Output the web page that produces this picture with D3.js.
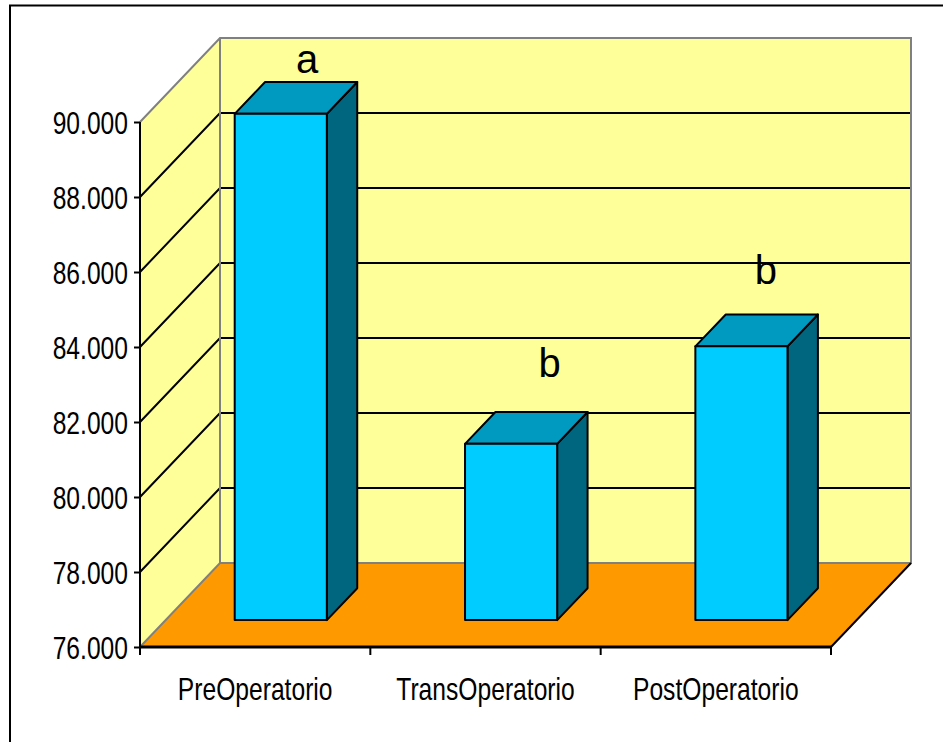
<!DOCTYPE html>
<html>
<head>
<meta charset="utf-8">
<script src="https://cdn.jsdelivr.net/npm/d3@7"></script>
<style>
  html, body { margin: 0; padding: 0; background: #ffffff; }
  svg { display: block; }
</style>
</head>
<body>
<svg id="chart" width="943" height="742"></svg>
<script>
// ---- data ----
const categories = ["PreOperatorio", "TransOperatorio", "PostOperatorio"];
const values = [89.5, 80.7, 83.3];
const groupLetters = ["a", "b", "b"];
const yTicks = [76, 78, 80, 82, 84, 86, 88, 90];
const yTickLabels = ["76.000", "78.000", "80.000", "82.000", "84.000", "86.000", "88.000", "90.000"];

// ---- layout ----
const W = 943, H = 742;
const front = { left: 140, right: 831, bottom: 647, top: 122 };
const depthX = 80, depthY = 84;       // full depth of the 3D box
const barDepth0 = 0.32, barDepth1 = 0.70; // bar front/back depth fractions
const letterNudge = [[-4, -9], [8, -35], [-6, -30]];
const labelSize = 32;
const narrow = 0.77; // emulate a condensed face

const colors = {
  wall: "#FFFF99", floor: "#FF9900", wallEdge: "#808080",
  front: "#00CCFF", top: "#0099BF", side: "#00667F"
};

const svg = d3.select("#chart");

const x = d3.scaleBand().domain(categories)
  .range([front.left, front.right]).paddingInner(0.6).paddingOuter(0.3);
const y = d3.scaleLinear().domain([76, 90]).range([front.bottom, front.top]);

// projection: front-plane x, value, depth fraction -> screen
const P = (px, v, d) => [px + d * depthX, y(v) - d * depthY];
const poly = pts => "M" + pts.map(p => p.join(",")).join("L") + "Z";

function condense(sel) {
  sel.each(function () {
    const len = this.getComputedTextLength();
    d3.select(this).attr("textLength", len * narrow).attr("lengthAdjust", "spacingAndGlyphs");
  });
}

// outer frame
svg.append("rect").attr("x", 10).attr("y", 5.5).attr("width", W + 20).attr("height", H + 20)
  .attr("fill", "none").attr("stroke", "#000").attr("stroke-width", 2);

const yMin = y.domain()[0], yMax = y.domain()[1];
const xL = front.left, xR = front.right;

// back wall
svg.append("path").attr("d", poly([P(xL, yMin, 1), P(xL, yMax, 1), P(xR, yMax, 1), P(xR, yMin, 1)]))
  .attr("fill", colors.wall).attr("stroke", "none");
// side wall
svg.append("path").attr("d", poly([P(xL, yMin, 0), P(xL, yMax, 0), P(xL, yMax, 1), P(xL, yMin, 1)]))
  .attr("fill", colors.wall).attr("stroke", "none");
// floor
svg.append("path").attr("d", poly([P(xL, yMin, 0), P(xL, yMin, 1), P(xR, yMin, 1), P(xR, yMin, 0)]))
  .attr("fill", colors.floor).attr("stroke", "none");

// gridlines
const inner = yTicks.filter(v => v > yMin && v < yMax);
const g = svg.append("g").attr("stroke", "#000").attr("stroke-width", 2).attr("fill", "none");
inner.forEach(v => {
  g.append("path").attr("d", "M" + P(xL, v, 0) + "L" + P(xL, v, 1) + "L" + P(xR, v, 1));
});

// wall edges (gray)
const e = svg.append("g").attr("stroke", colors.wallEdge).attr("stroke-width", 2).attr("fill", "none");
e.append("path").attr("d", "M" + P(xL, yMax, 0) + "L" + P(xL, yMax, 1) + "L" + P(xR, yMax, 1) + "L" + P(xR, yMin, 1) + "L" + P(xL, yMin, 1) + "L" + P(xL, yMin, 0));
e.append("path").attr("d", "M" + P(xL, yMax, 1) + "L" + P(xL, yMin, 1));

// floor outer edge (black)
svg.append("path").attr("d", "M" + P(xR, yMin, 0) + "L" + P(xR, yMin, 1))
  .attr("stroke", "#000").attr("stroke-width", 2).attr("fill", "none");

// bars
const bars = svg.append("g").attr("stroke", "#000").attr("stroke-width", 2).attr("stroke-linejoin", "round");
categories.forEach((c, i) => {
  const x0 = x(c), x1 = x(c) + x.bandwidth(), v = values[i];
  const gb = bars.append("g");
  gb.append("path").attr("fill", colors.side)
    .attr("d", poly([P(x1, yMin, barDepth0), P(x1, v, barDepth0), P(x1, v, barDepth1), P(x1, yMin, barDepth1)]));
  gb.append("path").attr("fill", colors.top)
    .attr("d", poly([P(x0, v, barDepth0), P(x0, v, barDepth1), P(x1, v, barDepth1), P(x1, v, barDepth0)]));
  gb.append("path").attr("fill", colors.front)
    .attr("d", poly([P(x0, yMin, barDepth0), P(x0, v, barDepth0), P(x1, v, barDepth0), P(x1, yMin, barDepth0)]));
});

// group letters
categories.forEach((c, i) => {
  const cx = x(c) + x.bandwidth() / 2;
  const p = P(cx, values[i], barDepth1);
  svg.append("text").attr("x", p[0] + letterNudge[i][0]).attr("y", p[1] + letterNudge[i][1])
    .attr("text-anchor", "middle")
    .attr("font-family", "Liberation Sans, Arial, sans-serif").attr("font-size", 40)
    .attr("fill", "#000").text(groupLetters[i]);
});

// y axis
const yAxis = d3.axisLeft(y).tickValues(yTicks).tickSize(6).tickPadding(6)
  .tickFormat((d, i) => yTickLabels[i]);
const ya = svg.append("g").attr("transform", `translate(${front.left},0)`).call(yAxis);
ya.select(".domain").attr("stroke", "#000").attr("stroke-width", 2).attr("d", `M0,${front.bottom}V${front.top}`);
ya.selectAll(".tick line").attr("stroke", "#000").attr("stroke-width", 2);
ya.selectAll(".tick text")
  .attr("font-family", "Liberation Sans, Arial, sans-serif")
  .attr("font-size", labelSize).attr("fill", "#000").attr("dy", "0.35em")
  .call(condense);

// x axis
const step = x.step();
const bounds = d3.range(categories.length + 1).map(k => front.left + k * step);
const xa = svg.append("g");
xa.append("path").attr("d", `M${front.left},${front.bottom}H${front.right}`)
  .attr("stroke", "#000").attr("stroke-width", 3);
xa.selectAll("line.xt").data(bounds).join("line").attr("class", "xt")
  .attr("x1", d => d).attr("x2", d => d).attr("y1", front.bottom).attr("y2", front.bottom + 8)
  .attr("stroke", "#000").attr("stroke-width", 2);
xa.selectAll("text").data(categories).join("text")
  .attr("x", d => x(d) + x.bandwidth() / 2).attr("y", 700)
  .attr("text-anchor", "middle")
  .attr("font-family", "Liberation Sans, Arial, sans-serif")
  .attr("font-size", labelSize).attr("fill", "#000").text(d => d)
  .call(condense);
</script>
</body>
</html>
